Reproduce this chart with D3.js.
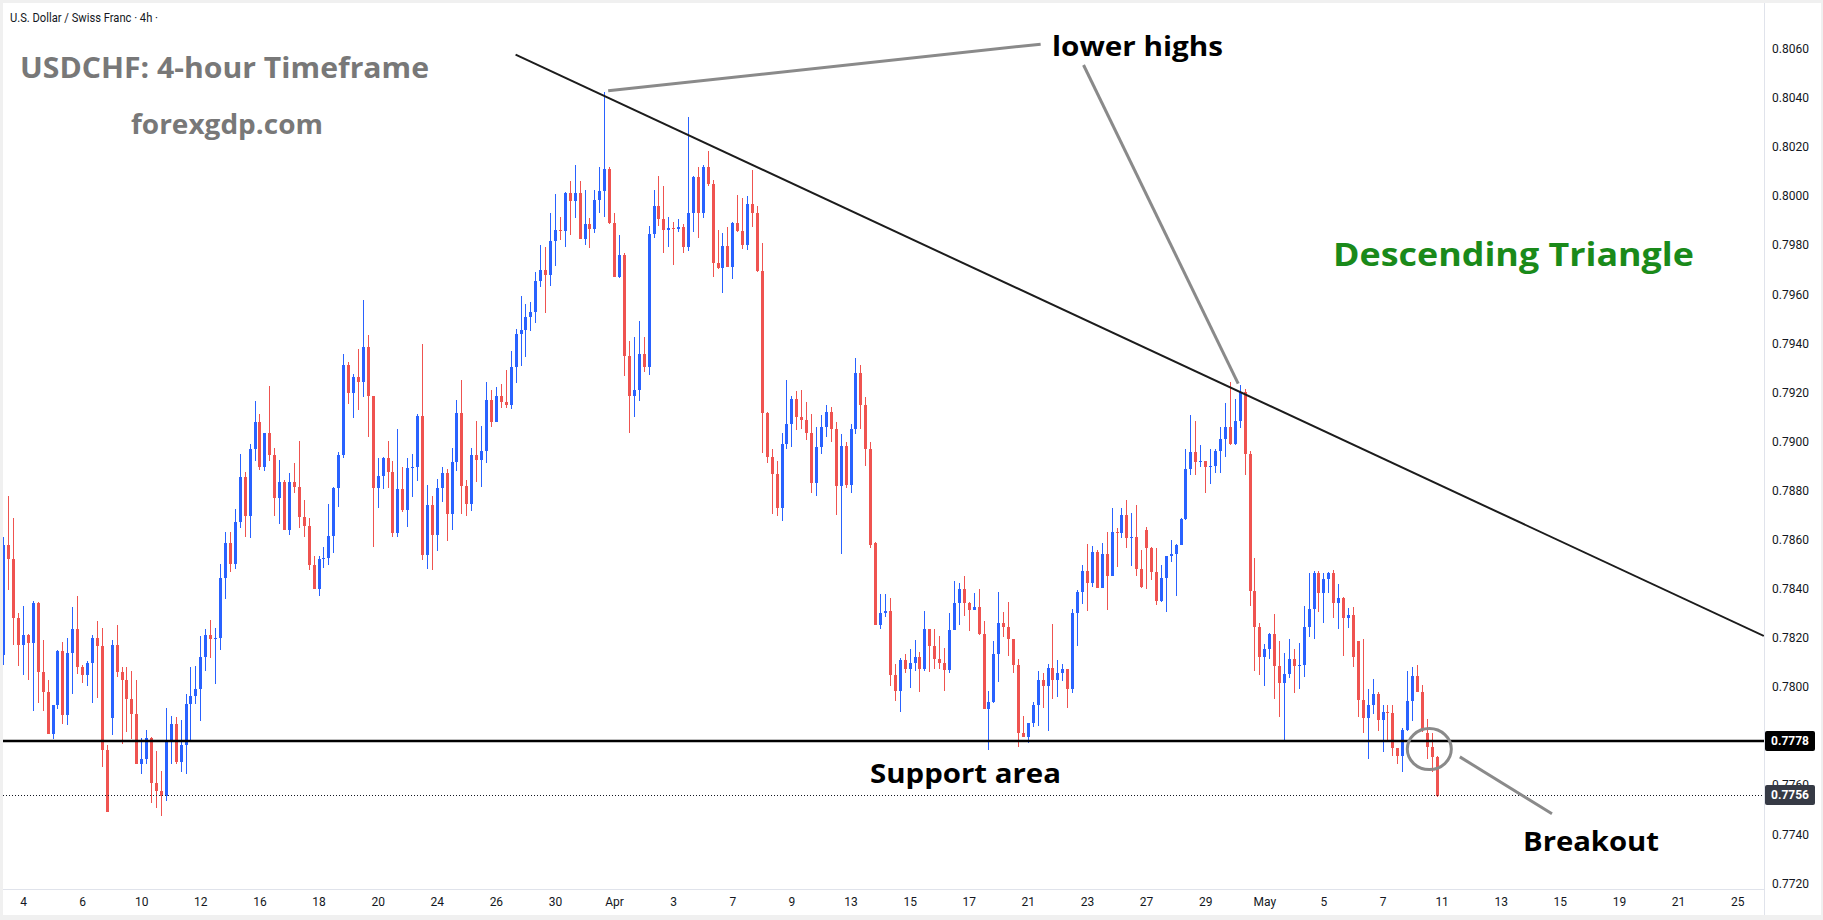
<!DOCTYPE html>
<html><head><meta charset="utf-8">
<script src="https://cdn.jsdelivr.net/npm/d3@7"></script>
<style>html,body{margin:0;padding:0;background:#fff;}svg{display:block;}</style>
</head><body><svg id="c" width="1823" height="920"></svg>
<script>
// ---------- DATA ----------
const firstIndex = -4; // candle index of first bar (index 0 = Mar 4 00:00, 4h bars)
const opens = [.7813,.7858,.7852,.7828,.7817,.7821,.7818,.7834,.7806,.7798,.7781,.77925,.78147,.77886,.78137,.78236,.7808,.78047,.78098,.78201,.78165,.77743,.77875,.78171,.78059,.7803,.77952,.77888,.77686,.77705,.77792,.7761,.77578,.77556,.77784,.77849,.77694,.77763,.7793,.77964,.7799,.7812,.78212,.78196,.78201,.78442,.78586,.78501,.78672,.78857,.78698,.78969,.79081,.78897,.79036,.78946,.78771,.78836,.78639,.78836,.78814,.78692,.78654,.78496,.78398,.78522,.78526,.78614,.7881,.78944,.79312,.79197,.79262,.79244,.79384,.79184,.78812,.7886,.78934,.78875,.78629,.78806,.7872,.78893,.78896,.79104,.78538,.78741,.78619,.78811,.78871,.78705,.78915,.79116,.78819,.78746,.78947,.78925,.7896,.79169,.79081,.79185,.7916,.79149,.79303,.79437,.79454,.79508,.79527,.79653,.79699,.79678,.79816,.79862,.79858,.80014,.79981,.80014,.79825,.79886,.79866,.79986,.80019,.8011,.7989,.79669,.79758,.79348,.79185,.7921,.79357,.79304,.79844,.79958,.79907,.79863,.79868,.79866,.79874,.79794,.79929,.80079,.79932,.8012,.8005,.79729,.79706,.79795,.79713,.79891,.79859,.79799,.79966,.79929,.79693,.79118,.78936,.78866,.78728,.78989,.7907,.79174,.79098,.79089,.79034,.7883,.78976,.7906,.7912,.7905,.7882,.7898,.78822,.7905,.7928,.7915,.7897,.78585,.78253,.783,.78308,.78049,.77985,.7811,.78073,.78096,.78121,.78073,.78236,.78166,.78112,.78096,.78069,.78234,.78344,.78401,.78344,.78314,.78327,.78214,.7791,.77938,.78133,.78262,.78243,.78194,.78088,.77814,.77797,.77852,.77925,.78028,.78005,.78076,.78028,.78055,.78073,.77992,.78302,.78386,.78474,.78422,.78551,.78402,.78542,.78452,.7863,.78626,.78701,.78606,.7861,.78482,.7864,.78565,.7847,.78351,.78443,.78533,.78542,.7858,.78684,.78886,.78959,.78915,.78921,.78895,.789,.78961,.7901,.79058,.7899,.79083,.792,.7895,.7839,.78246,.78123,.78154,.78216,.78084,.78015,.78052,.78114,.78084,.78089,.78245,.78317,.78465,.78382,.7844,.78463,.78341,.78361,.78282,.78293,.78189,.77947,.77875,.77926,.77971,.77866,.77897,.77893,.7775,.7772,.77825,.77943,.78045,.77981,.77814,.77754,.77713];
const highs = [.7861,.7878,.7869,.783,.7833,.78215,.7835,.78345,.7819,.7803,.77926,.7815,.78185,.782,.78327,.7837,.7809,.78106,.7821,.7827,.7824,.77764,.78192,.78253,.78083,.78083,.78065,.78028,.77791,.77825,.77797,.7774,.77658,.77913,.77882,.77879,.77866,.7797,.78083,.78086,.78208,.78235,.78273,.78241,.78501,.7863,.7863,.78725,.78948,.78877,.7899,.79166,.79112,.79036,.79226,.78975,.78925,.78843,.78871,.78911,.79003,.78762,.7869,.78534,.78534,.7857,.78746,.78815,.78959,.79356,.79325,.79276,.79377,.79577,.79434,.79185,.78934,.78938,.79002,.78921,.79051,.78898,.78932,.7895,.79111,.79397,.78823,.78778,.78846,.78895,.78887,.78972,.79171,.79249,.78843,.78972,.79084,.79063,.79244,.7921,.79223,.79234,.79291,.79369,.79457,.79593,.7956,.7957,.79692,.79801,.79794,.79932,.80008,.79916,.80018,.80063,.80127,.80063,.80025,.79912,.80025,.80117,.80423,.8012,.79932,.79843,.79766,.79409,.79425,.79493,.79425,.7988,.80026,.80083,.80042,.79916,.79896,.79907,.79888,.80321,.80083,.8012,.80127,.80183,.80066,.7986,.7985,.79875,.79896,.80006,.79993,.80002,.80107,.79961,.7981,.7912,.78968,.78922,.79033,.79251,.79187,.79206,.7921,.79161,.79112,.7906,.7911,.7915,.7914,.7908,.7903,.79,.7907,.7934,.7931,.7918,.79,.7859,.78379,.78379,.78364,.78094,.78117,.78135,.78155,.78191,.78141,.7831,.78236,.78236,.78208,.78157,.783,.78432,.78422,.78452,.78345,.78382,.78401,.78269,.77985,.78187,.78388,.78307,.78347,.78196,.78114,.77882,.77852,.7794,.78065,.78058,.78094,.78257,.7811,.78094,.78073,.78316,.78395,.78497,.78582,.78574,.7856,.78588,.7863,.7873,.78649,.7873,.78762,.7871,.78741,.78556,.78651,.78571,.78567,.78497,.78533,.78599,.78582,.78687,.78968,.79108,.79084,.78986,.78921,.78968,.78968,.7906,.79158,.79244,.79172,.7923,.79215,.78961,.78524,.78259,.78175,.78221,.78297,.78187,.7814,.78195,.78155,.78178,.7833,.78466,.78473,.78473,.78466,.7847,.78477,.7842,.78365,.78321,.78325,.78189,.78195,.77992,.78033,.77978,.77926,.77926,.77926,.7775,.77832,.78065,.78083,.78088,.78009,.77868,.77814,.7772];
const lows = [.7809,.78395,.7817,.78085,.7805,.7803,.779,.77935,.779,.7781,.77787,.7791,.77848,.77845,.7797,.78053,.78018,.78005,.77936,.77956,.77675,.7749,.77803,.78042,.77768,.77818,.77788,.77686,.77646,.77686,.77528,.77506,.77476,.77537,.77686,.77686,.77652,.77646,.77777,.77931,.77863,.78066,.78119,.78011,.7815,.78358,.7847,.78481,.78649,.78612,.78608,.78922,.78884,.78881,.78922,.78698,.78663,.78639,.78619,.78792,.78647,.78609,.78477,.78398,.78372,.78484,.78497,.78545,.78734,.78932,.79153,.79095,.79128,.7918,.7902,.78572,.7873,.78807,.78812,.78612,.78612,.78714,.78653,.78773,.7884,.78517,.78479,.78477,.78555,.78755,.78596,.7864,.78881,.78705,.78697,.78718,.78833,.78816,.78914,.7906,.79081,.79138,.79138,.79133,.7924,.79308,.79346,.79451,.79484,.79631,.79525,.79634,.79716,.79821,.79794,.79841,.79912,.79825,.79801,.7979,.79851,.7993,.79916,.79888,.79669,.79665,.79268,.79033,.79101,.79165,.79284,.79271,.79828,.7988,.79769,.79794,.79721,.79855,.79766,.79777,.79855,.79831,.79909,.80042,.79669,.79701,.79604,.79713,.79661,.79852,.79786,.79782,.79875,.7969,.78954,.78911,.78703,.78698,.78675,.78968,.78976,.79047,.79052,.79007,.78789,.78776,.7895,.7902,.79,.787,.7854,.7881,.7879,.7903,.7905,.789,.78565,.78253,.78236,.78286,.78005,.77944,.77899,.78056,.77997,.78066,.77981,.78066,.78062,.78073,.78073,.77985,.78058,.7823,.78253,.78291,.78228,.78314,.78212,.7791,.77743,.77936,.78021,.78205,.78126,.78058,.77754,.77795,.77771,.77836,.77842,.77913,.77822,.77951,.7796,.78026,.77916,.77974,.78168,.78338,.78311,.78409,.78402,.78402,.78314,.78452,.7849,.78606,.78565,.78494,.7845,.78402,.784,.78436,.78334,.78347,.78307,.7851,.78371,.78578,.7868,.78864,.78864,.78895,.78792,.78827,.78871,.78873,.78938,.78986,.78986,.79056,.78864,.7833,.78066,.78049,.78004,.78113,.77951,.77879,.7778,.78035,.77977,.77992,.78042,.78205,.78195,.78304,.78262,.78382,.78282,.78236,.78126,.7824,.7808,.77879,.77814,.77707,.77889,.77822,.77734,.77781,.7772,.77686,.77655,.77822,.77863,.77981,.77818,.77705,.77655,.77553];
const closes = [.7858,.7852,.7828,.7817,.7821,.7818,.7834,.7806,.7798,.7781,.77925,.78147,.77886,.78137,.78236,.7808,.78047,.78098,.78201,.78165,.77743,.7749,.78171,.78059,.7803,.77952,.77888,.77686,.77705,.77792,.7761,.77578,.77556,.77784,.77849,.77694,.77763,.7793,.77964,.7799,.7812,.78212,.78196,.78201,.78442,.78586,.78501,.78672,.78857,.78698,.78969,.79081,.78897,.79036,.78946,.78771,.78836,.78639,.78836,.78814,.78692,.78654,.78496,.78398,.78522,.78526,.78614,.7881,.78944,.79312,.79197,.79262,.79244,.79384,.79184,.78812,.7886,.78934,.78875,.78629,.78806,.7872,.78893,.78896,.79104,.78538,.78741,.78619,.78811,.78871,.78705,.78915,.79116,.78819,.78746,.78947,.78925,.7896,.79169,.79081,.79185,.7916,.79149,.79303,.79437,.79454,.79508,.79527,.79653,.79699,.79678,.79816,.79862,.79858,.80014,.79981,.80014,.79825,.79886,.79866,.79986,.80019,.8011,.7989,.79669,.79758,.79348,.79185,.7921,.79357,.79304,.79844,.79958,.79907,.79863,.79868,.79866,.79874,.79794,.79929,.80079,.79932,.8012,.8005,.79729,.79706,.79795,.79713,.79891,.79859,.79799,.79966,.79929,.79693,.79118,.78936,.78866,.78728,.78989,.7907,.79174,.79098,.79089,.79034,.7883,.78976,.7906,.7912,.7905,.7882,.7898,.78822,.7905,.7928,.7915,.7897,.78578,.78253,.783,.78308,.78049,.77985,.7811,.78073,.78096,.78121,.78073,.78236,.78166,.78112,.78096,.78069,.78234,.78344,.78401,.78344,.78314,.78327,.78214,.7791,.77938,.78133,.78262,.78243,.78194,.78088,.77814,.77797,.77852,.77925,.78028,.78005,.78076,.78028,.78055,.78073,.77992,.78302,.78386,.78474,.78422,.78551,.78402,.78542,.78452,.7863,.78626,.78701,.78606,.7861,.78482,.78409,.78565,.7847,.78351,.78443,.78533,.78542,.7858,.78684,.78886,.78959,.78915,.78921,.78895,.789,.78961,.7901,.79058,.7899,.79083,.792,.7895,.7839,.78246,.78123,.78154,.78216,.78084,.78015,.78052,.78114,.78084,.78089,.78245,.78317,.78465,.78382,.7844,.78463,.78341,.78361,.78282,.78293,.78123,.77947,.77875,.77926,.77971,.77866,.77897,.77893,.7775,.7772,.77825,.77943,.78045,.77981,.77825,.77754,.77713,.77556];

const priceTicks = [0.7720,0.7740,0.7760,0.7780,0.7800,0.7820,0.7840,0.7860,0.7880,0.7900,0.7920,0.7940,0.7960,0.7980,0.8000,0.8020,0.8040,0.8060];
const dateLabels = ["4","6","10","12","16","18","20","24","26","30","Apr","3","7","9","13","15","17","21","23","27","29","May","5","7","11","13","15","19","21","25"];
const barsPerLabel = 12; // two trading days of 4h bars
const monthLabels = ["Apr","May"];

const supportLevel = 0.7778;
const lastPrice = 0.7756;
const trendLine = [[100, 0.80576], [353.4, 0.78208]];
const pointerHighs1 = [[118.8, 0.80429], [206.6, 0.80619]];
const pointerHighs2 = [[215.3, 0.80534], [246.7, 0.79236]];
const breakoutCircle = [285.5, 0.77747];
const pointerBreakout = [[291.7, 0.77715], [310.4, 0.77483]];

// ---------- CHART ----------
const svg = d3.select("#c");
const W = 1823, H = 920;
const plotL = 3, plotR = 1764, plotT = 3, plotB = 889;
const candles = opens.map((o,k)=>({i:firstIndex+k,o,h:highs[k],l:lows[k],c:closes[k]}));

const x = d3.scaleLinear().domain([firstIndex, firstIndex+opens.length-1]).range([3.3, 1436.7]);
const y = d3.scaleLinear().domain([0.7720, 0.8060]).range([883.3, 48.8]);

svg.append("rect").attr("width",W).attr("height",H).attr("fill","#f0f0f0");
svg.append("rect").attr("x",plotL).attr("y",plotT).attr("width",W-plotL-2).attr("height",H-plotT-5).attr("fill","#ffffff");

const defs = svg.append("defs");
defs.append("clipPath").attr("id","plotClip").append("rect")
  .attr("x",plotL).attr("y",plotT).attr("width",plotR-plotL).attr("height",plotB-plotT);
defs.append("clipPath").attr("id","axisClip").append("rect")
  .attr("x",plotR).attr("y",plotT).attr("width",W-plotR).attr("height",plotB-plotT);

// axes separators
svg.append("line").attr("x1",plotL).attr("x2",plotR).attr("y1",plotB+0.5).attr("y2",plotB+0.5).attr("stroke","#e0e3eb");
svg.append("line").attr("x1",plotR+0.5).attr("x2",plotR+0.5).attr("y1",plotT).attr("y2",H-5).attr("stroke","#e0e3eb");

// price axis
const yAxis = d3.axisRight(y).tickValues(priceTicks).tickSize(0).tickPadding(8).tickFormat(d3.format(".4f"));
const gy = svg.append("g").attr("clip-path","url(#axisClip)").append("g")
  .attr("transform",`translate(${plotR},0)`).call(yAxis);
gy.select(".domain").remove();
gy.attr("font-family","Roboto, sans-serif").attr("font-size",12);
gy.selectAll("text").attr("fill","#131722");

// time axis
const dateTicks = dateLabels.map((d,k)=>k*barsPerLabel);
const xAxis = d3.axisBottom(x).tickValues(dateTicks).tickSize(0).tickPadding(8).tickFormat((d,k)=>dateLabels[k]);
const gx = svg.append("g").attr("transform",`translate(0,${plotB})`).call(xAxis);
gx.select(".domain").remove();
gx.attr("font-family","Roboto, sans-serif").attr("font-size",12);
gx.selectAll("text").attr("fill","#131722").attr("font-weight",d=>0);

// plot content
const plot = svg.append("g").attr("clip-path","url(#plotClip)");
const up = "#2962ff", down = "#ef5350";
const bodyW = 3;
const cg = plot.append("g").attr("shape-rendering","crispEdges");
cg.selectAll("line.wick").data(candles).join("line").attr("class","wick")
  .attr("x1",d=>Math.round(x(d.i))+0.5).attr("x2",d=>Math.round(x(d.i))+0.5)
  .attr("y1",d=>y(d.h)).attr("y2",d=>y(d.l))
  .attr("stroke",d=>d.c>=d.o?up:down).attr("stroke-width",1);
cg.selectAll("rect.body").data(candles).join("rect").attr("class","body")
  .attr("x",d=>Math.round(x(d.i))-1).attr("width",bodyW)
  .attr("y",d=>y(Math.max(d.o,d.c)))
  .attr("height",d=>Math.max(1,Math.abs(y(d.o)-y(d.c))))
  .attr("fill",d=>d.c>=d.o?up:down);

// support & last price lines
plot.append("line").attr("x1",plotL).attr("x2",plotR).attr("y1",y(supportLevel)).attr("y2",y(supportLevel))
  .attr("stroke","#000").attr("stroke-width",2.5);
plot.append("line").attr("x1",plotL).attr("x2",plotR).attr("y1",Math.round(y(lastPrice))+0.5).attr("y2",Math.round(y(lastPrice))+0.5)
  .attr("stroke","#131722").attr("stroke-width",1).attr("stroke-dasharray","1,2");

// trend line
const lineGen = d3.line().x(d=>x(d[0])).y(d=>y(d[1]));
plot.append("path").attr("d",lineGen(trendLine)).attr("stroke","#1c1c1c").attr("stroke-width",2).attr("fill","none");
// gray pointer lines
[pointerHighs1,pointerHighs2,pointerBreakout].forEach(p=>{
  plot.append("path").attr("d",lineGen(p)).attr("stroke","#8a8a8a").attr("stroke-width",3).attr("fill","none");
});
plot.append("ellipse").attr("cx",x(breakoutCircle[0])).attr("cy",y(breakoutCircle[1])).attr("rx",22).attr("ry",20.5)
  .attr("stroke","#8a8a8a").attr("stroke-width",3).attr("fill","none");

// price labels on axis
function priceBox(p, fill){
  const g = svg.append("g");
  g.append("rect").attr("x",plotR+1).attr("y",y(p)-10).attr("width",50).attr("height",20).attr("rx",2).attr("fill",fill);
  g.append("text").attr("x",plotR+26).attr("y",y(p)).attr("dy","0.35em").attr("text-anchor","middle")
    .attr("font-family","Roboto, sans-serif").attr("font-size",12).attr("font-weight",700).attr("fill","#fff")
    .text(d3.format(".4f")(p));
}
priceBox(supportLevel,"#000000");
priceBox(lastPrice,"#363a45");

// texts
function label(t, xx, yy, size, fill, len, weight=700, fam="'Open Sans', sans-serif"){
  const el = svg.append("text").attr("x",xx).attr("y",yy).attr("font-family",fam).attr("font-size",size)
    .attr("font-weight",weight).attr("fill",fill).text(t);
  if(len) el.attr("textLength",len).attr("lengthAdjust","spacingAndGlyphs");
  return el;
}
label("U.S. Dollar / Swiss Franc · 4h ·", 10, 22, 13, "#131722", 148, 400, "Roboto, sans-serif");
label("USDCHF: 4-hour Timeframe", 20, 78, 28, "#787878", 409);
label("forexgdp.com", 131, 134, 26, "#787878", 192);
label("lower highs", 1052, 56, 26, "#000", 171);
label("Descending Triangle", 1333, 266, 33, "#1a8a1a", 361);
label("Support area", 870, 783, 26, "#000", 191);
label("Breakout", 1523, 851, 26, "#000", 136);
</script></body></html>
